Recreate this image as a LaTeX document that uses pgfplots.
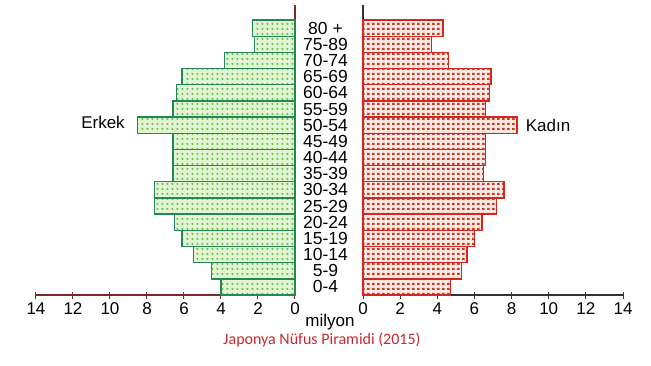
\documentclass[border=0pt]{standalone}
\usepackage{fontspec}
\setmainfont{Liberation Sans}
\newfontfamily\titlefont{Carlito}
\usepackage{pgfplots}
\usepackage{pgfplotstable}
\pgfplotsset{compat=1.18}
\usetikzlibrary{patterns.meta}
\definecolor{gedge}{HTML}{23875A}
\definecolor{gfill}{HTML}{E2F5D2}
\definecolor{gdot}{HTML}{6CBF4A}
\definecolor{redge}{HTML}{D8261E}
\definecolor{rfill}{HTML}{FCEAE2}
\definecolor{rdot}{HTML}{C83A2A}
\definecolor{lbrown}{HTML}{7A2A2A}
\definecolor{rblack}{HTML}{333333}
\definecolor{titlered}{HTML}{C8282D}
\tikzdeclarepattern{name=gdots, type=uncolored, bottom left={(0pt,0pt)}, top right={(5.4pt,5pt)}, tile size={(5.4pt,5pt)}, code={\fill (2.7pt,2.5pt) circle (1.35pt);}}
\tikzdeclarepattern{name=rdots, type=uncolored, bottom left={(0pt,0pt)}, top right={(5.4pt,5pt)}, tile size={(5.4pt,5pt)}, code={\fill (1.3pt,1.2pt) rectangle (4.0pt,3.8pt);}}
\pgfplotstableread{
y male female
0 4.0 4.7
1 4.5 5.3
2 5.5 5.6
3 6.1 6.0
4 6.5 6.4
5 7.6 7.2
6 7.6 7.6
7 6.6 6.5
8 6.6 6.6
9 6.6 6.6
10 8.5 8.3
11 6.6 6.6
12 6.4 6.8
13 6.1 6.9
14 3.8 4.6
15 2.2 3.7
16 2.3 4.3
}\pyr
\begin{document}
\begin{tikzpicture}
\useasboundingbox (0,0) rectangle (651pt,365pt);
\pgfplotsset{
  pyr/.style={
    scale only axis, height=290pt,
    xmin=0, xmax=14, ymin=-0.5, ymax=17.43,
    axis x line=bottom,
    xtick={0,2,...,14}, xtick align=center,
    major tick length=7pt,
    xticklabel style={font=\fontsize{17}{18}\selectfont, yshift=-1pt},
    /pgf/number format/assume math mode=true,
    clip=false,
  }
}
\begin{axis}[pyr, at={(36pt,70pt)}, anchor=south west, width=259pt,
  x dir=reverse, axis y line=right,
  axis line style={-, draw=lbrown, line width=1.3pt},
  x tick style={lbrown, line width=1pt},
  ytick=\empty]
\addplot[xbar, bar width=1, bar shift=0pt, draw=gedge, line width=1.4pt, fill=gfill,
  postaction={pattern={gdots}, pattern color=gdot}] table[x=male, y=y] {\pyr};
\end{axis}
\begin{axis}[pyr, at={(363pt,70pt)}, anchor=south west, width=260pt,
  axis y line=left,
  axis line style={-, draw=rblack, line width=1.3pt},
  x tick style={rblack, line width=1pt},
  ytick={0,...,16}, y tick style={draw=none},
  yticklabels={0-4,5-9,10-14,15-19,20-24,25-29,30-34,35-39,40-44,45-49,50-54,55-59,60-64,65-69,70-74,75-89,80 +},
  yticklabel style={anchor=center, xshift=-34pt, font=\fontsize{17.5}{16}\selectfont}]
\addplot[xbar, bar width=1, bar shift=0pt, draw=redge, line width=1.4pt, fill=rfill,
  postaction={pattern={rdots}, pattern color=rdot}] table[x=female, y=y] {\pyr};
\end{axis}
\node[font=\fontsize{17}{18}\selectfont] at (103pt,243pt) {Erkek};
\node[font=\fontsize{17}{18}\selectfont] at (548pt,240pt) {Kadın};
\node[font=\fontsize{17}{18}\selectfont] at (330pt,43pt) {milyon};
\node[font=\titlefont\fontsize{16}{17}\selectfont, text=titlered] at (322pt,25pt) {Japonya Nüfus Piramidi (2015)};
\end{tikzpicture}
\end{document}
